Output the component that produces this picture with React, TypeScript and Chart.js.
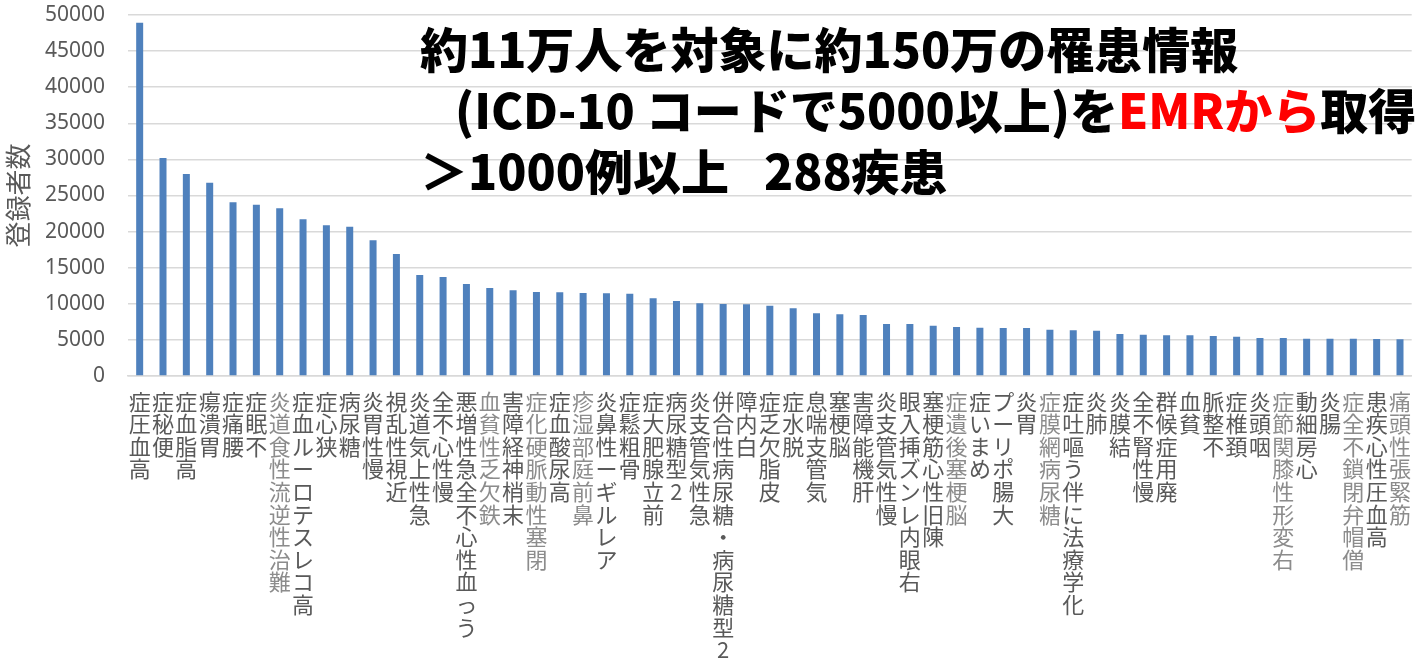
import React, { useEffect, useRef } from "react";
import { Chart, registerables } from "chart.js";

Chart.register(...registerables);

const categories: string[] = [
  "高血圧症", "便秘症", "高脂血症", "胃潰瘍", "腰痛症", "不眠症", "難治性逆流性食道炎", "高コレステロール血症", "狭心症", "糖尿病",
  "慢性胃炎", "近視性乱視", "急性上気道炎", "慢性心不全", "うっ血性心不全急性増悪", "鉄欠乏性貧血", "末梢神経障害", "閉塞性動脈硬化症", "高尿酸血症", "鼻前庭部湿疹",
  "アレルギー性鼻炎", "骨粗鬆症", "前立腺肥大症", "2型糖尿病", "急性気管支炎", "2型糖尿病・糖尿病性合併", "白内障", "皮脂欠乏症", "脱水症", "気管支喘息",
  "脳梗塞", "肝機能障害", "慢性気管支炎", "右眼内レンズ挿入眼", "陳旧性心筋梗塞", "脳梗塞後遺症", "めまい症", "大腸ポリープ", "胃炎", "糖尿病網膜症",
  "化学療法に伴う嘔吐症", "肺炎", "結膜炎", "慢性腎不全", "廃用症候群", "貧血", "不整脈", "頚椎症", "咽頭炎", "右変形性膝関節症",
  "心房細動", "腸炎", "僧帽弁閉鎖不全症", "高血圧性心疾患", "筋緊張性頭痛",
];

const registrants: number[] = [
  48930, 30190, 27980, 26770, 24060, 23730, 23220, 21700, 20870, 20680,
  18790, 16900, 13990, 13710, 12740, 12190, 11870, 11630, 11590, 11500,
  11450, 11400, 10760, 10390, 10070, 9970, 9950, 9740, 9370, 8680,
  8540, 8450, 7200, 7200, 6970, 6790, 6690, 6650, 6650, 6400,
  6330, 6280, 5820, 5720, 5630, 5630, 5540, 5450, 5260, 5260,
  5170, 5170, 5170, 5120, 5080,
];

const lightLabels: string[] = [
  "難治性逆流性食道炎", "鉄欠乏性貧血", "閉塞性動脈硬化症", "鼻前庭部湿疹", "脳梗塞後遺症",
  "糖尿病網膜症", "右変形性膝関節症", "僧帽弁閉鎖不全症", "筋緊張性頭痛",
];

const yMin = 0;
const yMax = 50000;
const yStep = 5000;
const yTitle = "登録者数";

const CJK = '"Noto Sans CJK JP", "Noto Sans", sans-serif';
const NUM = '"Noto Sans", "DejaVu Sans", sans-serif';

export default function App() {
  const ref = useRef<HTMLCanvasElement>(null);

  useEffect(() => {
    document.body.style.margin = "0";
    const chart = new Chart(ref.current!, {
      type: "bar",
      data: {
        labels: categories,
        datasets: [
          {
            data: registrants,
            backgroundColor: "#4F81BD",
            barPercentage: 0.3,
            categoryPercentage: 1,
          },
        ],
      },
      options: {
        animation: false,
        responsive: false,
        maintainAspectRatio: false,
        layout: { padding: 0 },
        plugins: { legend: { display: false }, tooltip: { enabled: false } },
        scales: {
          x: {
            grid: { display: false, drawTicks: false },
            border: { display: true, color: "#d9d9d9", width: 1.5 },
            ticks: {
              autoSkip: false,
              maxRotation: 0,
              minRotation: 0,
              padding: 14,
              color: (ctx: any) =>
                lightLabels.includes(categories[ctx.index]) ? "#8c8c8c" : "#595959",
              font: { family: CJK, size: 22, lineHeight: "22.6px" },
              callback: (_v: any, i: number) => Array.from(categories[i]).reverse(),
            },
            afterFit: (s: any) => {
              s.height = 662 - 376;
            },
          },
          y: {
            min: yMin,
            max: yMax,
            ticks: {
              stepSize: yStep,
              padding: 23,
              color: "#595959",
              font: { family: NUM, size: 21 },
              callback: (v: any) => String(v),
            },
            grid: { color: "#d9d9d9", lineWidth: 1.5, drawTicks: false },
            border: { display: false },
            title: {
              display: true,
              text: yTitle,
              color: "#595959",
              font: { family: CJK, size: 26 },
              padding: { top: 3, bottom: 0 },
            },
            afterFit: (s: any) => {
              s.width = 128;
              s.paddingTop = 15;
              s.paddingBottom = 0;
            },
          },
        },
      },
    } as any);
    return () => chart.destroy();
  }, []);

  const lineStyle: React.CSSProperties = { height: 61, whiteSpace: "pre" };

  return (
    <div
      style={{
        position: "fixed",
        left: 0,
        top: 0,
        width: 1418,
        height: 662,
        overflow: "hidden",
        background: "#fff",
      }}
    >
      <canvas ref={ref} width={1425} height={662} style={{ display: "block" }} />
      <div
        style={{
          position: "absolute",
          left: 420,
          top: 17,
          fontFamily: CJK,
          fontWeight: 900,
          fontSize: 48,
          lineHeight: "61px",
          color: "#000",
          pointerEvents: "none",
        }}
      >
        <div style={lineStyle}>約11万人を対象に約150万の罹患情報</div>
        <div style={{ ...lineStyle, paddingLeft: 35 }}>
          (ICD-10 コードで5000以上)を<span style={{ color: "#ff0000" }}>EMRから</span>取得
        </div>
        <div style={lineStyle}>{"＞1000例以上\u2002 288疾患"}</div>
      </div>
    </div>
  );
}
